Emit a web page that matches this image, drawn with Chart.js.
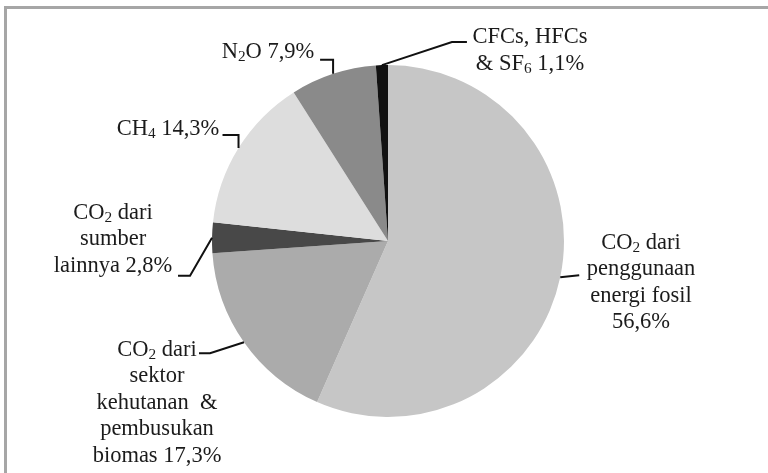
<!DOCTYPE html>
<html>
<head>
<meta charset="utf-8">
<script src="https://cdn.jsdelivr.net/npm/chart.js@4.4.1/dist/chart.umd.min.js"></script>
<style>
  html, body { margin: 0; padding: 0; background: #fff; }
  #wrap { width: 768px; height: 473px; }
  canvas { display: block; }
</style>
</head>
<body>
<div id="wrap"><canvas id="pie" width="768" height="473"></canvas></div>
<script>
// data
const categories = [
  'CO2 dari penggunaan energi fosil',
  'CO2 dari sektor kehutanan & pembusukan biomas',
  'CO2 dari sumber lainnya',
  'CH4',
  'N2O',
  'CFCs, HFCs & SF6'
];
const shares = [56.6, 17.3, 2.8, 14.3, 7.9, 1.1];
const sliceColors = ['#c6c6c6', '#ababab', '#484848', '#dddddd', '#8a8a8a', '#111111'];

// label lines, "_x" = subscript, {v} = value
const labelLines = [
  ['CO_2 dari', 'penggunaan', 'energi fosil', '{v}'],
  ['CO_2 dari', 'sektor', 'kehutanan  &', 'pembusukan', 'biomas {v}'],
  ['CO_2 dari', 'sumber', 'lainnya {v}'],
  ['CH_4 {v}'],
  ['N_2O {v}'],
  ['CFCs, HFCs', '& SF_6 {v}']
];

// leader layout: elbow / end relative to arc anchor, text centre relative to pie centre
const leaders = [
  { elbow: [19, -2],  end: [19, -2],  text: [253, 2] },
  { elbow: [-34, 11], end: [-45, 11], text: [-231, 109] },
  { elbow: [-22, 38], end: [-34, 38], text: [-275, -28] },
  { elbow: [0, -13],  end: [-16, -13], text: [-220, -112] },
  { elbow: [0, -14],  end: [-13, -14], text: [-120, -189] },
  { elbow: [70, -23], end: [85, -23], text: [142, -203.5] }
];

const FONT_SIZE = 22.5;
const LINE_H = 26.5;
const FAMILY = '"Liberation Serif", "Times New Roman", serif';

function fmt(v) {
  return v.toFixed(1).replace('.', ',') + '%';
}

function parseRich(str) {
  const segs = [];
  let buf = '';
  for (let i = 0; i < str.length; i++) {
    if (str[i] === '_' && i + 1 < str.length) {
      if (buf) segs.push({ t: buf, sub: false });
      buf = '';
      segs.push({ t: str[i + 1], sub: true });
      i++;
    } else {
      buf += str[i];
    }
  }
  if (buf) segs.push({ t: buf, sub: false });
  return segs;
}

function drawRich(ctx, str, cx, cy) {
  const segs = parseRich(str);
  const main = FONT_SIZE + 'px ' + FAMILY;
  const small = (FONT_SIZE * 0.68) + 'px ' + FAMILY;
  let total = 0;
  segs.forEach(s => {
    ctx.font = s.sub ? small : main;
    s.w = ctx.measureText(s.t).width;
    total += s.w;
  });
  let x = cx - total / 2;
  segs.forEach(s => {
    ctx.font = s.sub ? small : main;
    ctx.fillText(s.t, x, s.sub ? cy + FONT_SIZE * 0.22 : cy);
    x += s.w;
  });
}

const framePlugin = {
  id: 'frame',
  beforeDraw(chart) {
    const ctx = chart.ctx;
    ctx.save();
    ctx.strokeStyle = '#a6a6a6';
    ctx.lineWidth = 3;
    ctx.beginPath();
    ctx.moveTo(5.5, 473);
    ctx.lineTo(5.5, 7.5);
    ctx.lineTo(768, 7.5);
    ctx.stroke();
    ctx.restore();
  }
};

const labelPlugin = {
  id: 'sliceLabels',
  afterDatasetsDraw(chart) {
    const ctx = chart.ctx;
    const arcs = chart.getDatasetMeta(0).data;
    ctx.save();
    ctx.textBaseline = 'middle';
    ctx.fillStyle = '#1b1b1b';
    ctx.strokeStyle = '#111';
    ctx.lineWidth = 2;
    arcs.forEach((arc, i) => {
      const p = arc.getProps(['x', 'y', 'startAngle', 'endAngle', 'outerRadius'], true);
      const mid = (p.startAngle + p.endAngle) / 2;
      const ax = p.x + Math.cos(mid) * p.outerRadius;
      const ay = p.y + Math.sin(mid) * p.outerRadius;
      const L = leaders[i];
      ctx.beginPath();
      ctx.moveTo(ax, ay);
      ctx.lineTo(ax + L.elbow[0], ay + L.elbow[1]);
      ctx.lineTo(ax + L.end[0], ay + L.end[1]);
      ctx.stroke();

      const lines = labelLines[i].map(s => s.replace('{v}', fmt(shares[i])));
      const tx = p.x + L.text[0];
      const ty = p.y + L.text[1];
      lines.forEach((ln, k) => drawRich(ctx, ln, tx, ty + k * LINE_H));
    });
    ctx.restore();
  }
};

new Chart(document.getElementById('pie'), {
  type: 'pie',
  data: {
    labels: categories,
    datasets: [{
      data: shares,
      backgroundColor: sliceColors,
      borderWidth: 0,
      hoverOffset: 0,
      offset: 0
    }]
  },
  options: {
    responsive: false,
    animation: false,
    layout: { padding: { top: 65, bottom: 56, left: 212, right: 204 } },
    plugins: {
      legend: { display: false },
      tooltip: { enabled: false }
    }
  },
  plugins: [framePlugin, labelPlugin]
});
</script>
</body>
</html>
